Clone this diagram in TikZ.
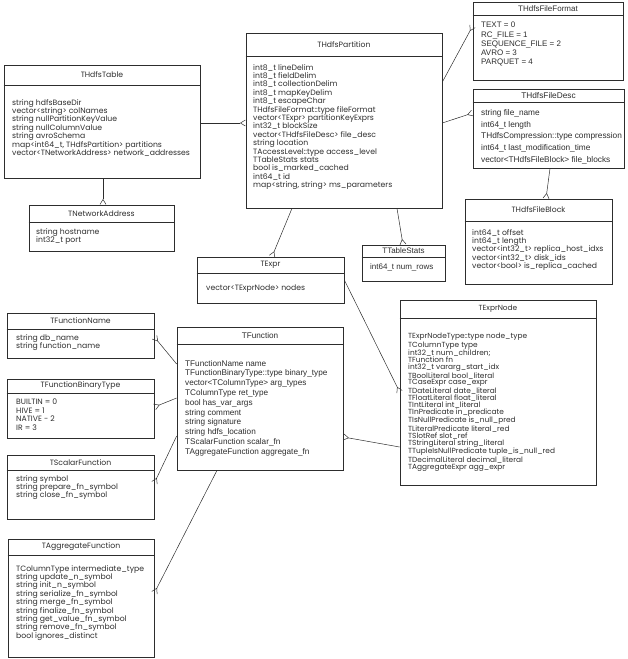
\documentclass[tikz,border=0pt]{standalone}
\usepackage{fontspec}
\newfontfamily\geofont{Poppins}
\newfontfamily\arifont{Liberation Sans}
\usetikzlibrary{arrows.meta,fit,calc}
\definecolor{ink}{RGB}{45,45,45}
\tikzset{
  crow/.tip={Straight Barb[reversed,length=5pt,width=6pt]},
  umlbox/.style={draw=ink,line width=0.7pt,inner sep=0pt},
  umlrule/.style={draw=ink,line width=0.7pt},
  geo/.style={font=\geofont\fontsize{7.7}{8.4}\selectfont},
  ari/.style={font=\arifont\fontsize{8}{9.3}\selectfont},
  title/.style={inner sep=0pt,text=ink},
  body/.style={inner sep=0pt,align=left,anchor=north west,text=ink},
  link/.style={draw=ink,line width=0.5pt,-crow},
}
% box, header rule, title and attribute list of one class
\newcommand{\umlclass}[8][geo]{%
  \node[umlbox,fit={#3 #4}] (#2) {};
  \draw[umlrule] (#2.west |- 0,#5) -- (#2.east |- 0,#5);
  \node[title,#1] (#2-t) at ($(#2.north)!0.5!(#2.north |- 0,#5)$) {#6};
  \node[body,#1] (#2-b) at #7 {#8};
}

\begin{document}
\begin{tikzpicture}[x=1pt,y=-1pt]
  \useasboundingbox (0,0) rectangle (628,659);
  % tables and partitions
  \umlclass{table}{(4,65)}{(200,178)}{85}{THdfsTable}{(12,99)}{string hdfsBaseDir\\ vector<string> colNames\\ string nullPartitionKeyValue\\ string nullColumnValue\\ string avroSchema\\ map<int64\_t, THdfsPartition> partitions\\ vector<TNetworkAddress> network\_addresses}
  \umlclass{netaddr}{(29,205)}{(174,251)}{222}{TNetworkAddress}{(36,228)}{string hostname\\ int32\_t port}
  \umlclass{part}{(246,33)}{(442,208)}{56}{THdfsPartition}{(253,64)}{int8\_t lineDelim\\ int8\_t fieldDelim\\ int8\_t collectionDelim\\ int8\_t mapKeyDelim\\ int8\_t escapeChar\\ THdfsFileFormat::type fileFormat\\ vector<TExpr> partitionKeyExprs\\ int32\_t blockSize\\ vector<THdfsFileDesc> file\_desc\\ string location\\ TAccessLevel::type access\_level\\ TTableStats stats\\ bool is\_marked\_cached\\ int64\_t id\\ map<string, string> ms\_parameters}
  \umlclass[ari]{ffmt}{(473,2)}{(623,80)}{15}{THdfsFileFormat}{(481,22)}{TEXT = 0\\ RC\_FILE = 1\\ SEQUENCE\_FILE = 2\\ AVRO = 3\\ PARQUET = 4}
  \umlclass[font=\arifont\fontsize{8.3}{11.8}\selectfont]{fdesc}{(473,89)}{(624,168)}{102}{THdfsFileDesc}{(481,109)}{string file\_name\\ int64\_t length\\ THdfsCompression::type compression\\ int64\_t last\_modification\_time\\ vector<THdfsFileBlock> file\_blocks}
  \umlclass{fblock}{(465,199)}{(612,284)}{221}{THdfsFileBlock}{(472,229)}{int64\_t offset\\ int64\_t length\\ vector<int32\_t> replica\_host\_idxs\\ vector<int32\_t> disk\_ids\\ vector<bool> is\_replica\_cached}
  \umlclass[ari]{tstats}{(362,245)}{(445,281)}{257}{TTableStats}{(370,263)}{int64\_t num\_rows}
  % expressions
  \umlclass{texpr}{(197,257)}{(344,303)}{273}{TExpr}{(206,285)}{vector<TExprNode> nodes}
  \umlclass[font=\geofont\fontsize{7.4}{6.9}\selectfont]{tnode}{(400,300)}{(596,485)}{318}{TExprNode}{(408,333)}{TExprNodeType::type node\_type\\ TColumnType type\\ int32\_t num\_children;\\ TFunction fn\\ int32\_t vararg\_start\_idx\\ TBoolLiteral bool\_literal\\ TCaseExpr case\_expr\\ TDateLiteral date\_literal\\ TFloatLiteral float\_literal\\ TIntLiteral int\_literal\\ TInPredicate in\_predicate\\ TIsNullPredicate is\_null\_pred\\ TLiteralPredicate literal\_red\\ TSlotRef slot\_ref\\ TStringLiteral string\_literal\\ TTupleIsNullPredicate tuple\_is\_null\_red\\ TDecimalLiteral decimal\_literal\\ TAggregateExpr agg\_expr}
  % functions
  \umlclass[font=\arifont\fontsize{8.2}{9.8}\selectfont]{tfunc}{(177,327)}{(343,470)}{344}{TFunction}{(185,360)}{TFunctionName name\\ TFunctionBinaryType::type binary\_type\\ vector<TColumnType> arg\_types\\ TColumnType ret\_type\\ bool has\_var\_args\\ string comment\\ string signature\\ string hdfs\_location\\ TScalarFunction scalar\_fn\\ TAggregateFunction aggregate\_fn}
  \umlclass{fname}{(7,313)}{(154,358)}{329}{TFunctionName}{(16,334)}{string db\_name\\ string function\_name}
  \umlclass{fbin}{(7,379)}{(154,438)}{393}{TFunctionBinaryType}{(16,399)}{BUILTIN = 0\\ HIVE = 1\\ NATIVE - 2\\ IR = 3}
  \umlclass{fscalar}{(7,455)}{(154,519)}{470}{TScalarFunction}{(16,475)}{string symbol\\ string prepare\_fn\_symbol\\ string close\_fn\_symbol}
  \umlclass{fagg}{(8,539)}{(154,657)}{555}{TAggregateFunction}{(16,565)}{TColumnType intermediate\_type\\ string update\_n\_symbol\\ string init\_n\_symbol\\ string serialize\_fn\_symbol\\ string merge\_fn\_symbol\\ string finalize\_fn\_symbol\\ string get\_value\_fn\_symbol\\ string remove\_fn\_symbol\\ bool ignores\_distinct}
  % links, crow foot at the many side
  \draw[link] (table.east |- 0,123) -- (part.west |- 0,123);
  \draw[link] (table.south -| 103,0) -- (netaddr.north -| 103,0);
  \draw[link] (part.east |- 0,82) -- (ffmt.west |- 0,26);
  \draw[link] (part.east |- 0,123) -- (fdesc.west |- 0,113);
  \draw[link] (fdesc.south -| 550,0) -- (fblock.north -| 546,0);
  \draw[link] (part.south -| 397,0) -- (tstats.north -| 403,0);
  \draw[link] (part.south -| 292,0) -- (texpr.north -| 272,0);
  \draw[link] (texpr.east |- 0,280) -- (tnode.west |- 0,392);
  \draw[link] (tnode.west |- 0,447) -- (tfunc.east |- 0,437);
  \draw[link] (tfunc.west |- 0,364) -- (fname.east |- 0,337);
  \draw[link] (tfunc.west |- 0,398) -- (fbin.east |- 0,407);
  \draw[link] (tfunc.west |- 0,436) -- (fscalar.east |- 0,483);
  \draw[link] (tfunc.south -| 217,0) -- (fagg.east |- 0,593);
\end{tikzpicture}
\end{document}
